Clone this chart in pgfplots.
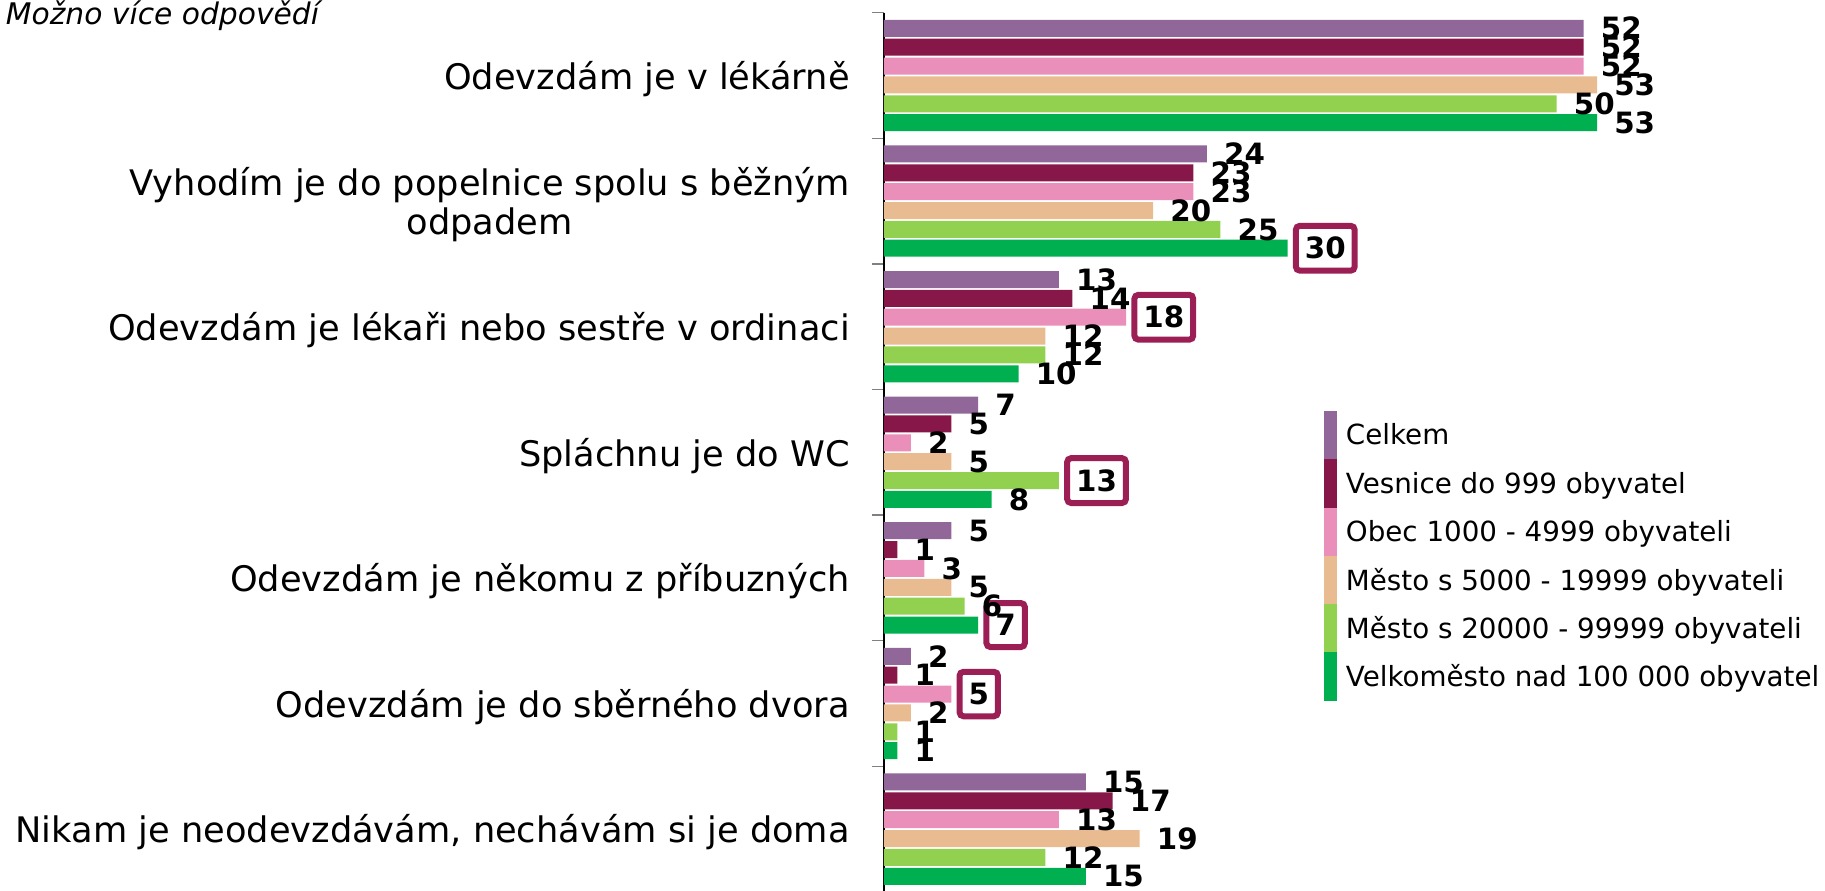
\documentclass[border=0pt]{standalone}
\usepackage{fontspec}
\setmainfont{DejaVu Sans}
\usepackage{pgfplots}
\usepackage{pgfplotstable}
\pgfplotsset{compat=1.18}
\definecolor{c1}{HTML}{916699}
\definecolor{c2}{HTML}{861748}
\definecolor{c3}{HTML}{EA8FBA}
\definecolor{c4}{HTML}{E8BC90}
\definecolor{c5}{HTML}{92D050}
\definecolor{c6}{HTML}{00B050}
\definecolor{boxc}{HTML}{9B1E55}
\pgfplotstableread{
cat s1 s2 s3 s4 s5 s6 h1 h2 h3 h4 h5 h6
0 52 52 52 53 50 53 0 0 0 0 0 0
1 24 23 23 20 25 30 0 0 0 0 0 1
2 13 14 18 12 12 10 0 0 1 0 0 0
3 7 5 2 5 13 8 0 0 0 0 1 0
4 5 1 3 5 6 7 0 0 0 0 0 1
5 2 1 5 2 1 1 0 0 1 0 0 0
6 15 17 13 19 12 15 0 0 0 0 0 0
}\data
\begin{document}
\begin{tikzpicture}
\begin{axis}[
  at={(663pt,-9.5pt)}, anchor=north west,
  x=10.09pt, y=94.2pt,
  xmin=0, xmax=70, ymin=-0.5, ymax=6.5, y dir=reverse,
  enlargelimits=false,
  xbar=1.4pt, bar width=12.75pt,
  axis x line=none, axis y line*=left,
  y axis line style={black, line width=1.5pt, -},
  ytick={0,...,6},
  yticklabels={Odevzdám je v lékárně,{Vyhodím je do popelnice spolu s běžným\\odpadem},Odevzdám je lékaři nebo sestře v ordinaci,Spláchnu je do WC,Odevzdám je někomu z příbuzných,Odevzdám je do sběrného dvora,{Nikam je neodevzdávám, nechávám si je doma}},
  minor ytick={-0.5,0.5,...,6.5},
  major tick length=0pt, minor tick length=9pt, tick align=outside, tick pos=left,
  minor tick style={gray, line width=1.1pt},
  yticklabel style={font=\fontsize{26.4pt}{29pt}\selectfont, align=center, inner sep=0pt, xshift=-25.5pt, yshift=-2.6pt},
  clip=false,
  point meta=x,
  /pgf/number format/assume math mode=true,
  nodes near coords,
  every node near coord/.append style={font=\fontsize{22pt}{26pt}\selectfont\bfseries, anchor=west, xshift=6.2pt, inner xsep=6.75pt, inner ysep=8.5pt, outer sep=0pt, line width=4.5pt, rounded corners=3pt, draw=boxc, draw opacity=\hf, text=black},
  reverse legend,
  legend style={at={(axis cs:32.66,2.67)}, anchor=north west, draw=none, fill=none, font=\fontsize{20.8pt}{24pt}\selectfont, inner sep=0pt, row sep=0pt, /tikz/every odd column/.append style={column sep=5pt}},
  legend cell align=left,
  legend style={cells={inner xsep=2pt, inner ysep=0pt}},
  legend image code/.code={\path (0pt,-18.1pt) rectangle (9.75pt,18.1pt); \fill[#1] (0pt,-4.875pt) rectangle (9.75pt,4.875pt);},
]
\addplot[fill=c6, draw=none, visualization depends on={\thisrow{h6}\as\hf}] table[x=s6, y=cat] {\data};
\addplot[fill=c5, draw=none, visualization depends on={\thisrow{h5}\as\hf}] table[x=s5, y=cat] {\data};
\addplot[fill=c4, draw=none, visualization depends on={\thisrow{h4}\as\hf}] table[x=s4, y=cat] {\data};
\addplot[fill=c3, draw=none, visualization depends on={\thisrow{h3}\as\hf}] table[x=s3, y=cat] {\data};
\addplot[fill=c2, draw=none, visualization depends on={\thisrow{h2}\as\hf}] table[x=s2, y=cat] {\data};
\addplot[fill=c1, draw=none, visualization depends on={\thisrow{h1}\as\hf}] table[x=s1, y=cat] {\data};
\legend{Velkoměsto nad 100 000 obyvatel, Město s 20000 - 99999 obyvateli, Město s 5000 - 19999 obyvateli, Obec 1000 - 4999 obyvateli, Vesnice do 999 obyvatel, Celkem}
\end{axis}
\node[anchor=base west, inner sep=0pt, font=\fontsize{22.3pt}{26pt}\selectfont\itshape] at (4.3pt,-18.75pt) {Možno více odpovědí};
\pgfresetboundingbox
\path[use as bounding box] (0,0) rectangle (1368.75pt,-668.25pt);
\end{tikzpicture}
\end{document}
